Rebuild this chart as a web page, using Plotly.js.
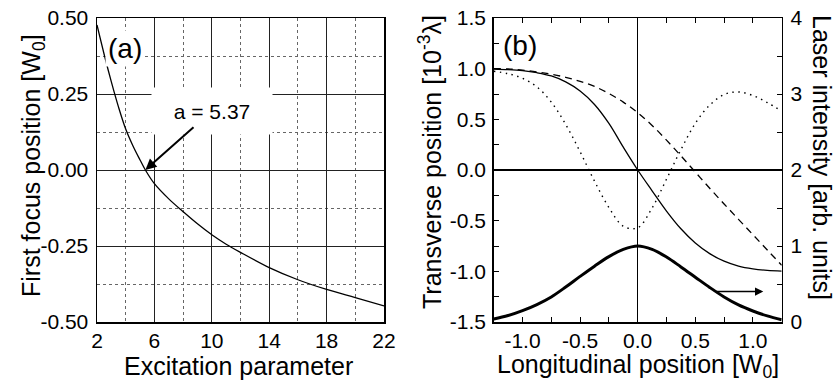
<!DOCTYPE html>
<html><head><meta charset="utf-8">
<script src="https://cdn.plot.ly/plotly-3.0.1.min.js"></script>
<style>html,body{margin:0;padding:0;background:#fff}</style>
</head><body><div id="chart" style="width:840px;height:381px"></div>
<script>
// Panel (a)
const excitation = [2, 2.5, 3, 3.5, 4, 4.5, 5, 5.37, 6, 7, 8, 9, 10, 11, 12, 14, 16, 18, 20, 22];
const firstFocus = [0.477, 0.38, 0.29, 0.207, 0.135, 0.08, 0.033, 0, -0.045, -0.095, -0.137, -0.177, -0.213, -0.244, -0.271, -0.321, -0.361, -0.393, -0.42, -0.447];
const xTicksA = [2, 6, 10, 14, 18, 22];
const yTicksA = [-0.5, -0.25, 0, 0.25, 0.5];
const yLabelsA = ['-0.50', '-0.25', '0.00', '0.25', '0.50'];

// Panel (b)
const longPos = [-1.25, -1.125, -1.0, -0.875, -0.75, -0.625, -0.5, -0.375, -0.25, -0.125, 0, 0.125, 0.25, 0.375, 0.5, 0.625, 0.75, 0.875, 1.0, 1.125, 1.25];
const transSolid  = [0.995, 0.99, 0.98, 0.96, 0.928, 0.87, 0.78, 0.647, 0.46, 0.225, 0, -0.205, -0.405, -0.58, -0.72, -0.825, -0.9, -0.948, -0.975, -0.99, -0.997];
const transDashed = [1.0, 0.997, 0.985, 0.968, 0.945, 0.915, 0.875, 0.825, 0.755, 0.67, 0.565, 0.44, 0.295, 0.14, -0.02, -0.18, -0.335, -0.487, -0.638, -0.789, -0.94];
const transDotted = [0.975, 0.95, 0.905, 0.82, 0.67, 0.45, 0.18, -0.11, -0.37, -0.555, -0.57, -0.375, -0.09, 0.2, 0.46, 0.64, 0.745, 0.77, 0.735, 0.665, 0.58];
const intensity   = [0.04, 0.085, 0.15, 0.23, 0.33, 0.46, 0.6, 0.735, 0.86, 0.955, 1.0, 0.955, 0.855, 0.725, 0.59, 0.455, 0.33, 0.225, 0.145, 0.08, 0.03];
const xTicksB = [-1, -0.5, 0, 0.5, 1];
const xLabelsB = ['-1.0', '-0.5', '0.0', '0.5', '1.0'];
const yTicksB = [-1.5, -1, -0.5, 0, 0.5, 1, 1.5];
const yLabelsB = ['-1.5', '-1.0', '-0.5', '0.0', '0.5', '1.0', '1.5'];
const y2TicksB = [0, 1, 2, 3, 4];

const FONT = 'Liberation Sans, Arial, sans-serif';
const TF = {family: FONT, size: 21, color: '#000'};
const TT = {family: FONT, size: 25, color: '#000'};

const traces = [
  {x: excitation, y: firstFocus, xaxis: 'x', yaxis: 'y', mode: 'lines',
   line: {color: '#000', width: 1.3, shape: 'spline', smoothing: 1}},
  {x: longPos, y: transSolid, xaxis: 'x2', yaxis: 'y2', mode: 'lines',
   line: {color: '#000', width: 1.3, shape: 'spline', smoothing: 1}},
  {x: longPos, y: transDashed, xaxis: 'x2', yaxis: 'y2', mode: 'lines',
   line: {color: '#000', width: 1.3, dash: '7px,5px', shape: 'spline', smoothing: 1}},
  {x: longPos, y: transDotted, xaxis: 'x2', yaxis: 'y2', mode: 'lines',
   line: {color: '#000', width: 1.4, dash: '1.5px,4.5px', shape: 'spline', smoothing: 1}},
  {x: longPos, y: intensity, xaxis: 'x2', yaxis: 'y3', mode: 'lines',
   line: {color: '#000', width: 3, shape: 'spline', smoothing: 1}}
];

function py(p) { return (322 - p) / 304; }   // pixel row -> paper y
function px(p) { return p / 840; }           // pixel col -> paper x

const layout = {
  width: 840, height: 381,
  margin: {l: 0, r: 0, t: 18, b: 59},
  paper_bgcolor: '#fff', plot_bgcolor: '#fff',
  showlegend: false,
  font: {family: FONT, color: '#000'},
  xaxis: {
    domain: [97/840, 384/840], range: [2, 22], tickvals: xTicksA, ticks: '',
    showgrid: true, gridcolor: '#222', gridwidth: 1,
    minor: {tickvals: [4, 8, 12, 16, 20], showgrid: true, gridcolor: '#666', griddash: 'dot', gridwidth: 1},
    showline: true, linecolor: '#000', linewidth: 1.5, mirror: true, zeroline: false,
    tickfont: TF, ticklabelstandoff: -1, automargin: false
  },
  yaxis: {
    domain: [0, 1], range: [-0.5, 0.5], tickvals: yTicksA, ticktext: yLabelsA, ticks: '',
    showgrid: true, gridcolor: '#222', gridwidth: 1,
    minor: {tickvals: [-0.375, -0.125, 0.125, 0.375], showgrid: true, gridcolor: '#666', griddash: 'dot', gridwidth: 1},
    showline: true, linecolor: '#000', linewidth: 1.5, mirror: true, zeroline: false,
    tickfont: TF, ticklabelstandoff: 3, automargin: false
  },
  xaxis2: {
    domain: [493.7/840, 781.7/840], range: [-1.25, 1.25], anchor: 'y2',
    tickvals: xTicksB, ticktext: xLabelsB,
    ticks: 'inside', ticklen: 5, tickwidth: 1, tickcolor: '#000',
    minor: {tickvals: [-1.25, -0.75, -0.25, 0.25, 0.75, 1.25], ticks: 'inside', ticklen: 5, tickwidth: 1, tickcolor: '#000'},
    showgrid: false, showline: true, linecolor: '#000', linewidth: 1.5, mirror: 'ticks',
    zeroline: true, zerolinecolor: '#000', zerolinewidth: 1.5,
    tickfont: TF, ticklabelstandoff: -1, automargin: false
  },
  yaxis2: {
    domain: [0, 1], range: [-1.5, 1.5], anchor: 'x2',
    tickvals: yTicksB, ticktext: yLabelsB,
    ticks: 'inside', ticklen: 5, tickwidth: 1, tickcolor: '#000',
    minor: {tickvals: [-1.25, -0.75, -0.25, 0.25, 0.75, 1.25], ticks: 'inside', ticklen: 5, tickwidth: 1, tickcolor: '#000'},
    showgrid: false, showline: true, linecolor: '#000', linewidth: 1.5, mirror: false,
    zeroline: true, zerolinecolor: '#000', zerolinewidth: 1.5,
    tickfont: TF, ticklabelstandoff: 2, automargin: false
  },
  yaxis3: {
    domain: [0, 1], range: [0, 4], overlaying: 'y2', side: 'right', anchor: 'x2',
    tickvals: y2TicksB,
    ticks: 'inside', ticklen: 5, tickwidth: 1, tickcolor: '#000',
    minor: {tickvals: [0.5, 1.5, 2.5, 3.5], ticks: 'inside', ticklen: 5, tickwidth: 1, tickcolor: '#000'},
    showgrid: false, showline: true, linecolor: '#000', linewidth: 1.5, zeroline: false,
    tickfont: TF, ticklabelstandoff: 3, automargin: false
  },
  annotations: [
    // axis titles
    {xref: 'paper', yref: 'paper', x: px(238), y: py(366), text: 'Excitation parameter',
     showarrow: false, font: TT, xanchor: 'center', yanchor: 'middle'},
    {xref: 'paper', yref: 'paper', x: px(33), y: py(166), text: 'First focus position [W<sub>0</sub>]',
     showarrow: false, font: TT, textangle: -90, xanchor: 'center', yanchor: 'middle'},
    {xref: 'paper', yref: 'paper', x: px(638), y: py(366), text: 'Longitudinal position [W<sub>0</sub>]',
     showarrow: false, font: TT, xanchor: 'center', yanchor: 'middle'},
    {xref: 'paper', yref: 'paper', x: px(430), y: py(162), text: 'Transverse position [10<sup>-3</sup>λ]',
     showarrow: false, font: TT, textangle: -90, xanchor: 'center', yanchor: 'middle'},
    {xref: 'paper', yref: 'paper', x: px(822), y: py(157), text: 'Laser intensity [arb. units]',
     showarrow: false, font: TT, textangle: 90, xanchor: 'center', yanchor: 'middle'},
    // panel labels and callouts
    {xref: 'x', yref: 'y', x: 3.95, y: 0.401, text: '(a)', showarrow: false,
     font: {family: FONT, size: 28, color: '#000'}, bgcolor: '#fff', borderpad: 2},
    {xref: 'x', yref: 'y', x: 10.0, y: 0.194, text: 'a = 5.37', showarrow: false,
     font: {family: FONT, size: 21, color: '#000'}, bgcolor: '#fff',
     width: 100, height: 26, borderpad: 10},
    {xref: 'x', yref: 'y', x: 5.37, y: 0, axref: 'x', ayref: 'y', ax: 8.83, ay: 0.145,
     text: '', showarrow: true, arrowhead: 2, arrowsize: 1.1, arrowwidth: 2, arrowcolor: '#000', standoff: 0},
    {xref: 'x2', yref: 'y2', x: -1.02, y: 1.23, text: '(b)', showarrow: false,
     font: {family: FONT, size: 28, color: '#000'}},
    {xref: 'x2', yref: 'y3', x: 1.09, y: 0.4, axref: 'x2', ayref: 'y3', ax: 0.67, ay: 0.4,
     text: '', showarrow: true, arrowhead: 2, arrowsize: 1.1, arrowwidth: 1.5, arrowcolor: '#000', standoff: 0}
  ]
};

Plotly.newPlot('chart', traces, layout, {staticPlot: true, displayModeBar: false});
</script>
</body></html>
